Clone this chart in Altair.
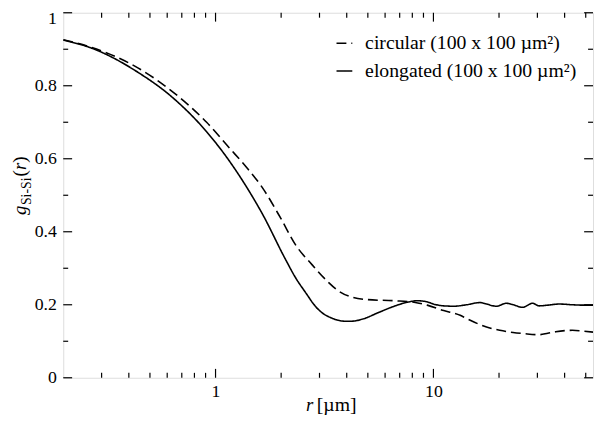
import altair as alt
import pandas as pd

# ---- data ----
r_circ = [0.20, 0.27, 0.44, 0.64, 0.91, 1.16, 1.38, 1.64, 2.00, 2.33, 2.77, 3.29, 3.66, 4.21,
          5.00, 6.61, 8.15, 9.36, 11.15, 13.27, 14.22, 17.52, 20.15, 23.2, 26.0, 30.6, 33.5,
          36.4, 43.4, 48.0, 54.0]
g_circ = [0.926, 0.905, 0.849, 0.782, 0.700, 0.629, 0.578, 0.521, 0.435, 0.364, 0.310, 0.262,
          0.238, 0.221, 0.214, 0.211, 0.207, 0.199, 0.184, 0.171, 0.162, 0.139, 0.130, 0.124,
          0.121, 0.118, 0.122, 0.126, 0.130, 0.128, 0.125]

r_elong = [0.20, 0.27, 0.44, 0.64, 0.91, 1.16, 1.38, 1.64, 2.10, 2.33, 2.60, 2.87, 3.10, 3.40,
           3.92, 4.21, 4.80, 5.56, 6.61, 7.60, 8.44, 9.36, 10.0, 11.15, 12.38, 14.2, 16.36,
           17.5, 19.45, 21.6, 23.2, 25.7, 28.5, 30.6, 33.5, 37.7, 43.4, 48.1, 54.0]
g_elong = [0.925, 0.903, 0.837, 0.766, 0.674, 0.593, 0.525, 0.449, 0.323, 0.274, 0.232, 0.196,
           0.177, 0.164, 0.155, 0.155, 0.162, 0.178, 0.196, 0.207, 0.211, 0.208, 0.202, 0.197,
           0.196, 0.200, 0.206, 0.202, 0.196, 0.204, 0.200, 0.193, 0.204, 0.197, 0.199, 0.202,
           0.200, 0.199, 0.199]

series_names = ["circular (100 x 100 µm²)", "elongated (100 x 100 µm²)"]

x_major = [1, 10]
x_minor = [0.3, 0.4, 0.5, 0.6, 0.7, 0.8, 0.9, 2, 3, 4, 5, 6, 7, 8, 9, 20, 30, 40, 50]
y_major = [0, 0.2, 0.4, 0.6, 0.8, 1.0]
y_minor = [0.1, 0.3, 0.5, 0.7, 0.9]

# ---- chart ----
W, H = 537, 370
FONT = "Liberation Serif, Times New Roman, Times, serif"
MAJ, MIN = 9, 5

df = pd.concat([
    pd.DataFrame({"r": r_circ, "g": g_circ, "series": series_names[0]}),
    pd.DataFrame({"r": r_elong, "g": g_elong, "series": series_names[1]}),
])

xscale = alt.Scale(type="log", domain=[0.2, 54], nice=False)
yscale = alt.Scale(domain=[0, 1], nice=False)
x_axis = alt.Axis(values=x_major, format="~g", title=None, ticks=False, domain=False, grid=False,
                  labelFont=FONT, labelFontSize=18, labelPadding=5, labelColor="black")
y_axis = alt.Axis(values=y_major, format="~g", title=None, ticks=False, domain=False, grid=False,
                  labelFont=FONT, labelFontSize=18, labelPadding=7, labelColor="black",
                  labelOffset={"condition": {"test": "datum.value == 1", "value": 6}, "value": 0})

lines = alt.Chart(df).mark_line(strokeWidth=1.6, color="black", interpolate="monotone", clip=True).encode(
    x=alt.X("r:Q", scale=xscale, axis=x_axis),
    y=alt.Y("g:Q", scale=yscale, axis=y_axis),
    strokeDash=alt.StrokeDash(
        "series:N",
        scale=alt.Scale(domain=series_names, range=[[10, 5], [1, 0]]),
        legend=alt.Legend(title=None, orient="none", legendX=275, legendY=21,
                          symbolType="stroke", symbolStrokeColor="black", symbolStrokeWidth=1.6,
                          symbolSize=256, labelFont=FONT, labelFontSize=20, labelOffset=11,
                          rowPadding=8, padding=0, labelLimit=400, labelColor="black"),
    ),
)


def xticks(vals, length):
    d = pd.DataFrame({"v": vals})
    bottom = alt.Chart(d).mark_rule(color="black", strokeWidth=1.2).encode(
        x=alt.X("v:Q", scale=xscale, axis=x_axis), y=alt.value(H), y2=alt.value(H - length))
    top = alt.Chart(d).mark_rule(color="black", strokeWidth=1.2).encode(
        x=alt.X("v:Q", scale=xscale, axis=x_axis), y=alt.value(0), y2=alt.value(length))
    return [bottom, top]


def yticks(vals, length):
    d = pd.DataFrame({"v": vals})
    left = alt.Chart(d).mark_rule(color="black", strokeWidth=1.2).encode(
        y=alt.Y("v:Q", scale=yscale, axis=y_axis), x=alt.value(0), x2=alt.value(length))
    right = alt.Chart(d).mark_rule(color="black", strokeWidth=1.2).encode(
        y=alt.Y("v:Q", scale=yscale, axis=y_axis), x=alt.value(W), x2=alt.value(W - length))
    return [left, right]


def label(text, x, y, size, italic=False, angle=0):
    kw = dict(font=FONT, fontSize=size, align="left", baseline="alphabetic", color="black")
    if italic:
        kw["fontStyle"] = "italic"
    if angle:
        kw["angle"] = angle
    return alt.Chart(pd.DataFrame({"t": [text]})).mark_text(**kw).encode(
        text="t:N", x=alt.value(x), y=alt.value(y))


titles = [
    # y title: g_{Si-Si}(r), rotated
    label("g", -38, 205, 19, italic=True, angle=270),
    label("Si-Si", -33, 195, 14, angle=270),
    label("(", -38, 166, 19, angle=270),
    label("r", -38, 159.5, 19, italic=True, angle=270),
    label(")", -38, 152, 19, angle=270),
    # x title: r [µm]
    label("r", 246, 404, 19, italic=True),
    label("[µm]", 257, 404, 20),
]

layers = [lines] + xticks(x_major, MAJ) + xticks(x_minor, MIN) + yticks(y_major, MAJ) + yticks(y_minor, MIN) + titles

chart = alt.layer(*layers).properties(
    width=W, height=H,
    autosize=alt.AutoSizeParams(type="none"),
    padding={"left": 56, "top": 2, "right": 1, "bottom": 40},
).configure_view(stroke="black", strokeWidth=1.5).configure(background="white")

chart.save("out.html", embed_options={"renderer": "svg", "actions": False})
